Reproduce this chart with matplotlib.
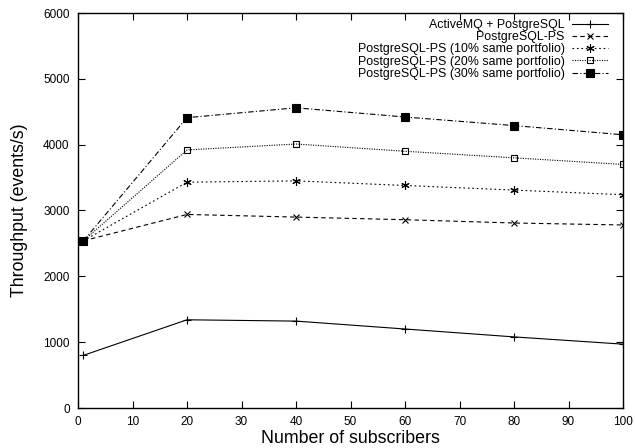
import matplotlib
matplotlib.use("Agg")
import matplotlib.pyplot as plt

subscribers = [1, 20, 40, 60, 80, 100]
activemq = [800, 1340, 1320, 1200, 1080, 970]
pg_ps = [2540, 2940, 2900, 2860, 2810, 2780]
pg_ps10 = [2540, 3430, 3450, 3380, 3310, 3240]
pg_ps20 = [2540, 3920, 4010, 3900, 3800, 3700]
pg_ps30 = [2540, 4410, 4560, 4420, 4290, 4150]

labels = ["ActiveMQ + PostgreSQL", "PostgreSQL-PS",
          "PostgreSQL-PS (10% same portfolio)",
          "PostgreSQL-PS (20% same portfolio)",
          "PostgreSQL-PS (30% same portfolio)"]

plt.rcParams['font.family'] = ['Liberation Sans', 'DejaVu Sans']

fig = plt.figure(figsize=(6.35, 4.48), dpi=100)
ax = fig.add_axes([78/635, 1-408/448, (623-78)/635, (408-13)/448])

lw = 0.8
ax.plot(subscribers, activemq, color='black', lw=lw, ls='-', marker='+', ms=6, mew=0.8, label=labels[0])
ax.plot(subscribers, pg_ps, color='black', lw=lw, ls=(0, (4, 3)), marker='x', ms=5, mew=0.8, label=labels[1])
ax.plot(subscribers, pg_ps10, color='black', lw=lw, ls=(0, (1.5, 2.5)), marker=(6, 2, 0), ms=6, mew=0.8, label=labels[2])
ax.plot(subscribers, pg_ps20, color='black', lw=lw, ls=(0, (1, 1.2)), marker='s', ms=5, mew=0.8, mfc='none', label=labels[3])
ax.plot(subscribers, pg_ps30, color='black', lw=lw, ls=(0, (5, 2, 1, 2)), marker='s', ms=5.5, mew=0.8, label=labels[4])

ax.set_xlim(0, 100)
ax.set_ylim(0, 6000)
ax.set_xticks(range(0, 101, 10))
ax.set_yticks(range(0, 6001, 1000))
ax.tick_params(direction='in', top=True, right=True, length=5, width=0.8, labelsize=8.5, pad=6)
for s in ax.spines.values():
    s.set_linewidth(1.0)
ax.set_xlabel("Number of subscribers", fontsize=12.8, labelpad=1)
ax.set_ylabel("Throughput (events/s)", fontsize=12.8, labelpad=11)

leg = ax.legend(loc='upper right', bbox_to_anchor=(0.9725, 0.985), markerfirst=False,
                frameon=False, fontsize=8.9, handlelength=2.9, labelspacing=0.02,
                handletextpad=0.6, borderaxespad=0.0, borderpad=0.0)

fig.savefig("out.png", dpi=100)
